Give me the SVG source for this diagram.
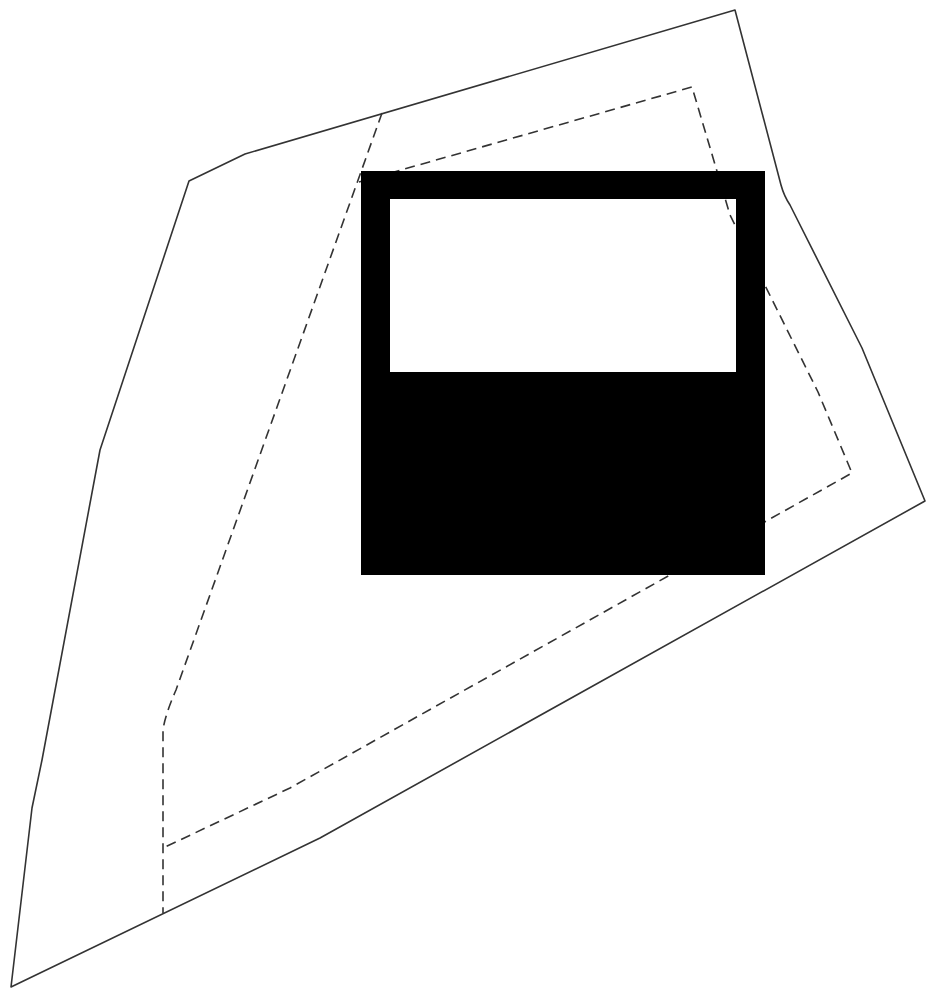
<svg xmlns="http://www.w3.org/2000/svg" width="926" height="991" viewBox="0 0 926 991">
<style>
.site{fill:none;stroke:#333;stroke-width:1.6;stroke-linejoin:round}
.offset{fill:none;stroke:#333;stroke-width:1.6;stroke-dasharray:10 6;stroke-linejoin:round}
.bldg{fill:#000;fill-rule:evenodd}
</style>
<rect width="926" height="991" fill="#fff"/>
<g id="site-boundary">
<path class="site" d="M735,10 L781,185 Q784,196 790,205 L862,348 L925,501 L320,838 L11,987 L32,808 L42,760 L100,450 L189,181 L245,154 Z"/>
</g>
<g id="setback">
<path class="offset" d="M382,113 L176,690 Q165,715 163,730 L163,913"/>
<path class="offset" d="M359,182 L692,87 L730,215 L818,392 L852,473 L290,788 L163,848"/>
</g>
<g id="building">
<path class="bldg" d="M361,171 H765 V575 H361 Z M390,199 V372 H736 V199 Z"/>
</g>
</svg>
